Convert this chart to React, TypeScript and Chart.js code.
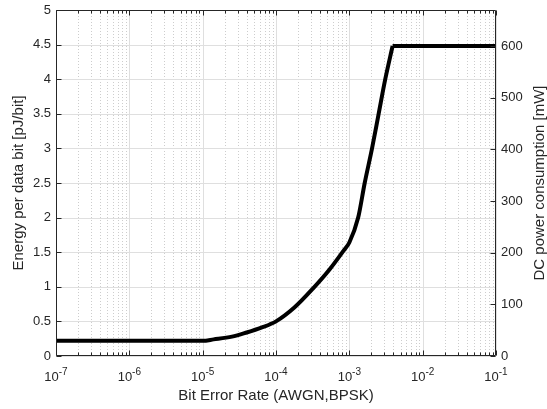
import { useEffect, useRef } from "react";
import { Chart, registerables } from "chart.js";

Chart.register(...registerables);

// ---- data ----
const risingBer = [
  1e-7, 1e-5, 1.41e-5, 2.51e-5, 3.98e-5, 6.31e-5, 1e-4, 1.78e-4, 3.16e-4,
  5.37e-4, 8.32e-4, 1e-3, 1.32e-3, 1.62e-3, 2.04e-3, 2.51e-3, 3.09e-3, 3.89e-3,
];
const risingEnergy = [
  0.22, 0.22, 0.24, 0.28, 0.34, 0.41, 0.5, 0.7, 0.97,
  1.25, 1.52, 1.64, 2.0, 2.5, 3.0, 3.5, 4.0, 4.48,
];
const plateauBer = [3.89e-3, 1e-1];
const plateauEnergy = [4.48, 4.48];

const xDecades = [-7, -6, -5, -4, -3, -2, -1];
const xMinorMultipliers = [2, 3, 4, 5, 6, 7, 8, 9];
const leftTicks = [0, 0.5, 1, 1.5, 2, 2.5, 3, 3.5, 4, 4.5, 5];
const rightTicks = [0, 100, 200, 300, 400, 500, 600];

const xTitle = "Bit Error Rate (AWGN,BPSK)";
const yTitle = "Energy per data bit [pJ/bit]";
const y2Title = "DC power consumption [mW]";

const FONT = "'Liberation Sans', Arial, Helvetica, sans-serif";
const TEXT = "#262626";

const decorPlugin = {
  id: "matlabDecor",
  beforeDatasetsDraw(chart: any) {
    const { ctx, chartArea: a, scales } = chart;
    const xs = scales.x;
    const ys = scales.y;
    ctx.save();
    ctx.lineWidth = 1;
    // minor x grid (dotted)
    ctx.strokeStyle = "#cdcdcd";
    ctx.setLineDash([1, 2]);
    for (const d of xDecades) {
      if (d === -1) continue;
      for (const m of xMinorMultipliers) {
        const x = Math.round(xs.getPixelForValue(m * Math.pow(10, d))) + 0.5;
        ctx.beginPath();
        ctx.moveTo(x, a.top);
        ctx.lineTo(x, a.bottom);
        ctx.stroke();
      }
    }
    ctx.setLineDash([]);
    // major grid
    ctx.strokeStyle = "#dfdfdf";
    for (const d of xDecades) {
      const x = Math.round(xs.getPixelForValue(Math.pow(10, d))) + 0.5;
      ctx.beginPath();
      ctx.moveTo(x, a.top);
      ctx.lineTo(x, a.bottom);
      ctx.stroke();
    }
    for (const v of leftTicks) {
      const y = Math.round(ys.getPixelForValue(v)) + 0.5;
      ctx.beginPath();
      ctx.moveTo(a.left, y);
      ctx.lineTo(a.right, y);
      ctx.stroke();
    }
    ctx.restore();
  },
  afterDraw(chart: any) {
    const { ctx, chartArea: a, scales } = chart;
    const xs = scales.x;
    const ys = scales.y;
    const ys2 = scales.y2;
    const L = Math.round(a.left) + 0.5;
    const R = Math.round(a.right) - 0.5;
    const T = Math.round(a.top) + 0.5;
    const B = Math.round(a.bottom) - 0.5;
    ctx.save();
    ctx.strokeStyle = TEXT;
    ctx.lineWidth = 1;
    ctx.beginPath();
    ctx.rect(L, T, R - L, B - T);
    ctx.stroke();
    // x ticks (bottom and top)
    ctx.beginPath();
    for (const d of xDecades) {
      const x = Math.round(xs.getPixelForValue(Math.pow(10, d))) + 0.5;
      ctx.moveTo(x, B);
      ctx.lineTo(x, B - 5);
      ctx.moveTo(x, T);
      ctx.lineTo(x, T + 5);
      if (d === -1) continue;
      for (const m of xMinorMultipliers) {
        const xm = Math.round(xs.getPixelForValue(m * Math.pow(10, d))) + 0.5;
        ctx.moveTo(xm, B);
        ctx.lineTo(xm, B - 3);
        ctx.moveTo(xm, T);
        ctx.lineTo(xm, T + 3);
      }
    }
    for (const v of leftTicks) {
      const y = Math.round(ys.getPixelForValue(v)) + 0.5;
      ctx.moveTo(L, y);
      ctx.lineTo(L + 5, y);
    }
    for (const v of rightTicks) {
      const y = Math.round(ys2.getPixelForValue(v)) + 0.5;
      ctx.moveTo(R, y);
      ctx.lineTo(R - 5, y);
    }
    ctx.stroke();

    // x tick labels 10^k
    ctx.fillStyle = TEXT;
    ctx.textBaseline = "alphabetic";
    ctx.textAlign = "left";
    for (const d of xDecades) {
      const x = xs.getPixelForValue(Math.pow(10, d));
      const base = "10";
      const exp = String(d);
      ctx.font = `13px ${FONT}`;
      const w1 = ctx.measureText(base).width;
      ctx.font = `10px ${FONT}`;
      const w2 = ctx.measureText(exp).width;
      const start = x - (w1 + w2) / 2;
      ctx.font = `13px ${FONT}`;
      ctx.fillText(base, start, a.bottom + 25);
      ctx.font = `10px ${FONT}`;
      ctx.fillText(exp, start + w1, a.bottom + 19);
    }

    // axis titles
    ctx.font = `15px ${FONT}`;
    ctx.textAlign = "center";
    ctx.textBaseline = "middle";
    ctx.fillText(xTitle, (a.left + a.right) / 2, 396);
    const cy = (a.top + a.bottom) / 2;
    ctx.save();
    ctx.translate(19, cy);
    ctx.rotate(-Math.PI / 2);
    ctx.fillText(yTitle, 0, 0);
    ctx.restore();
    ctx.save();
    ctx.translate(540, cy);
    ctx.rotate(-Math.PI / 2);
    ctx.fillText(y2Title, 0, 0);
    ctx.restore();
    ctx.restore();
  },
};

export default function App() {
  const ref = useRef<HTMLCanvasElement>(null);
  useEffect(() => {
    const canvas = ref.current;
    if (!canvas) return;
    const tickFont = { family: FONT, size: 13 };
    const noGrid = { display: false, drawTicks: false, tickLength: 0 };
    const chart = new Chart(canvas, {
      type: "line",
      data: {
        datasets: [
          {
            data: risingBer.map((x, i) => ({ x, y: risingEnergy[i] })),
            borderColor: "#000000",
            borderWidth: 4,
            pointRadius: 0,
            cubicInterpolationMode: "monotone",
            fill: false,
            yAxisID: "y",
          },
          {
            data: plateauBer.map((x, i) => ({ x, y: plateauEnergy[i] })),
            borderColor: "#000000",
            borderWidth: 4,
            pointRadius: 0,
            fill: false,
            yAxisID: "y",
          },
        ],
      },
      options: {
        responsive: false,
        maintainAspectRatio: false,
        animation: false,
        devicePixelRatio: 1,
        layout: { padding: { top: 10, left: 0, right: 0, bottom: 0 } },
        plugins: { legend: { display: false }, tooltip: { enabled: false } },
        scales: {
          x: {
            type: "logarithmic",
            min: 1e-7,
            max: 1e-1,
            ticks: { display: false },
            grid: noGrid,
            border: { display: false },
            afterFit: (s: any) => {
              s.height = 53;
              s.paddingLeft = 0;
              s.paddingRight = 0;
            },
          },
          y: {
            type: "linear",
            position: "left",
            min: 0,
            max: 5,
            afterBuildTicks: (s: any) => {
              s.ticks = leftTicks.map((v) => ({ value: v }));
            },
            ticks: { font: tickFont, color: TEXT, padding: 5, callback: (v: any) => String(v) },
            grid: noGrid,
            border: { display: false },
            afterFit: (s: any) => {
              s.width = 56;
              s.paddingTop = 0;
              s.paddingBottom = 0;
            },
          },
          y2: {
            type: "linear",
            position: "right",
            min: 0,
            max: 670,
            afterBuildTicks: (s: any) => {
              s.ticks = rightTicks.map((v) => ({ value: v }));
            },
            ticks: { font: tickFont, color: TEXT, padding: 5, callback: (v: any) => String(v) },
            grid: noGrid,
            border: { display: false },
            afterFit: (s: any) => {
              s.width = 51;
              s.paddingTop = 0;
              s.paddingBottom = 0;
            },
          },
        },
      } as any,
      plugins: [decorPlugin],
    });
    return () => chart.destroy();
  }, []);
  return (
    <div style={{ position: "absolute", left: 0, top: 0, width: 547, height: 409, background: "#ffffff" }}>
      <canvas ref={ref} width={547} height={409} style={{ display: "block" }} />
    </div>
  );
}
